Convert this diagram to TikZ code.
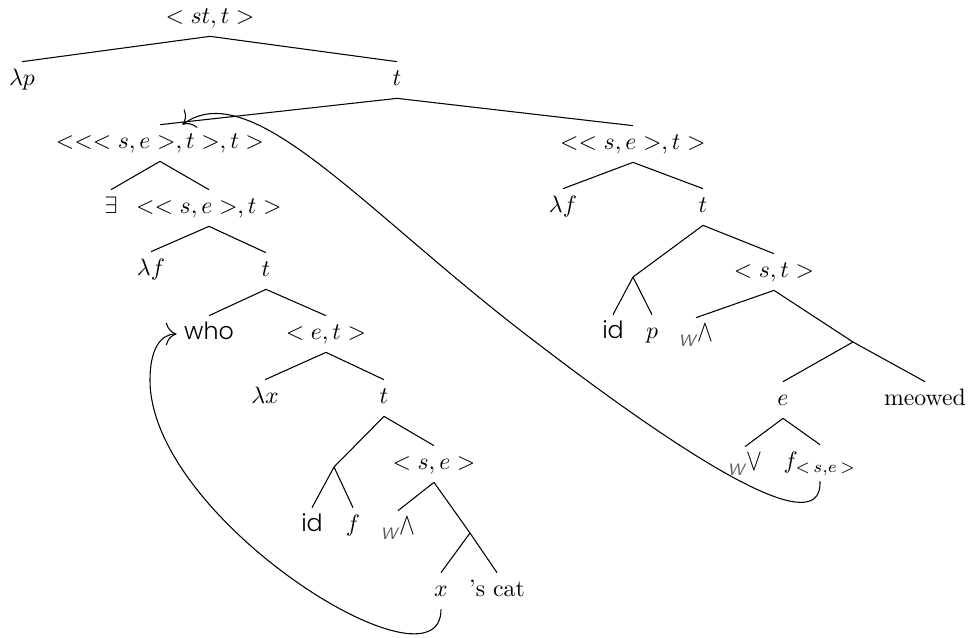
\documentclass[tikz,border=0pt]{standalone}
\usepackage{fontspec}
\newfontfamily\geofont{Poppins}[UprightFont=*-Light]
\usetikzlibrary{arrows.meta}
\newcommand{\wup}{\raisebox{-0.45ex}{\scriptsize\color{black!65}\textsf{\itshape W}}\scalebox{1}[1.3]{$\wedge$}}
\newcommand{\wdown}{\raisebox{-0.45ex}{\scriptsize\color{black!65}\textsf{\itshape W}}\scalebox{1}[1.3]{$\vee$}}

\begin{document}
\begin{tikzpicture}[x=0.0148cm,y=-0.0148cm,
    tnode/.style={
      inner sep=3pt,
      text height=1.6ex,
      text depth=0.5ex
    },
    branch/.style={line width=0.45pt},
    bindarrow/.style={
      -{To[length=1.6mm]},
      line width=0.45pt
    }]
    \useasboundingbox (0,0) rectangle (970,637);

    % Top of the tree
    \node[tnode] (root) at (210,18) {$<st,t>$};
    \node[tnode] (lamp) at (22,80) {$\lambda p$};
    \node[tnode] (t0) at (397,80) {$t$};

    % Left conjunct
    \node[tnode] (qtype) at (160,143) {$<<<s,e>,t>,t>$};
    \node[tnode] (ex) at (111,208) {$\exists$};
    \node[tnode] (pred) at (209,208) {$<<s,e>,t>$};
    \node[tnode] (lamf) at (151,270) {$\lambda f$};
    \node[tnode] (t1) at (266,271) {$t$};
    \node[tnode] (who) at (209,334) {\geofont who};
    \node[tnode] (et) at (326,334) {$<e,t>$};
    \node[tnode] (lamx) at (265,398) {$\lambda x$};
    \node[tnode] (t2) at (384,398) {$t$};
    \coordinate (b1) at (334,467);
    \node[tnode] (id1) at (312,526) {\geofont id};
    \node[tnode] (f1) at (353,526) {$f$};
    \node[tnode] (se1) at (434,464) {$<s,e>$};
    \node[tnode] (up1) at (398,529) {\wup};
    \coordinate (b2) at (470,533);
    \node[tnode] (x) at (441,591) {$x$};
    \node[tnode] (cat) at (497,591) {'s cat};

    % Right conjunct
    \node[tnode] (pred2) at (633,144) {$<<s,e>,t>$};
    \node[tnode] (lamf2) at (563,207) {$\lambda f$};
    \node[tnode] (t3) at (703,207) {$t$};
    \coordinate (b3) at (633,277);
    \node[tnode] (id2) at (613,333) {\geofont id};
    \node[tnode] (p) at (652,333) {$p$};
    \node[tnode] (st) at (774,272) {$<s,t>$};
    \node[tnode] (up2) at (696,336) {\wup};
    \coordinate (b4) at (853,342);
    \node[tnode] (e) at (783,400) {$e$};
    \node[tnode] (meow) at (925,400) {meowed};
    \node[tnode] (down) at (745,465) {\wdown};
    \node[tnode] (fse) at (820,463) {$f_{<\,s,e\,>}$};

    % Branches
    \foreach \a/\b in {root/lamp,root/t0,t0/qtype,t0/pred2,qtype/ex,qtype/pred,
        pred/lamf,pred/t1,t1/who,t1/et,et/lamx,et/t2,t2/se1,se1/up1,
        pred2/lamf2,pred2/t3,t3/st,st/up2,e/down,e/fse}
      \draw[branch] (\a.south) -- (\b.north);
    \foreach \a/\b in {t2/b1,se1/b2,t3/b3,st/b4}
      \draw[branch] (\a.south) -- (\b);
    \foreach \a/\b in {b1/id1,b1/f1,b2/x,b2/cat,b3/id2,b3/p,b4/e,b4/meow}
      \draw[branch] (\a) -- (\b.north);

    % Binding arrows
    \coordinate (via1) at (150,380);
    \coordinate (via2) at (520,330);
    \draw[bindarrow] (x.south) .. controls (441,700) and (150,520) .. (via1)
      .. controls (150,350) and (160,334) .. (who.west);
    \draw[bindarrow] (fse.south) .. controls (822,530) and (740,500) .. (via2)
      .. controls (360,206) and (250,75) .. ([xshift=0.33cm]qtype.north);
  \end{tikzpicture}
\end{document}
